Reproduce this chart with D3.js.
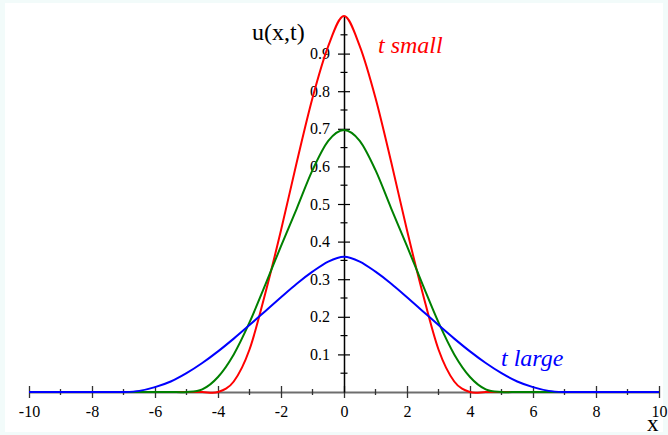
<!DOCTYPE html>
<html lang="en">
<head>
    <meta charset="UTF-8">
    <title>u(x,t)</title>
    <script src="https://d3js.org/d3.v7.min.js"></script>
    <style>
        body {
            margin: 0;
            padding: 0;
            background-color: #ffffff;
        }
        svg text {
            font-family: "Liberation Serif", "Times New Roman", serif;
        }
    </style>
</head>
<body>
    <div id="chart"></div>

    <script>
        // Sample positions along x
        const xs = [-10, -9.5, -9, -8.5, -8, -7.5, -7, -6.5, -6, -5.5, -5, -4.5, -4, -3.5, -3, -2.5, -2, -1.5, -1, -0.5,
                    0, 0.5, 1, 1.5, 2, 2.5, 3, 3.5, 4, 4.5, 5, 5.5, 6, 6.5, 7, 7.5, 8, 8.5, 9, 9.5, 10];

        // u(x,t) values for each curve
        const redValues = [0, 0, 0, 0, 0, 0, 0, 0, 0, 0, 0, 0, 0, 0.028, 0.113, 0.262, 0.43, 0.611, 0.782, 0.92,
                           1.0, 0.92, 0.782, 0.611, 0.43, 0.262, 0.113, 0.028, 0, 0, 0, 0, 0, 0, 0, 0, 0, 0, 0, 0, 0];
        const greenValues = [0, 0, 0, 0, 0, 0, 0, 0, 0, 0, 0, 0.007, 0.04, 0.1, 0.185, 0.285, 0.388, 0.488, 0.59, 0.668,
                             0.697, 0.668, 0.59, 0.488, 0.388, 0.285, 0.185, 0.1, 0.04, 0.007, 0, 0, 0, 0, 0, 0, 0, 0, 0, 0, 0];
        const blueValues = [0, 0, 0, 0, 0, 0, 0, 0.003, 0.013, 0.028, 0.05, 0.077, 0.108, 0.142, 0.178, 0.215, 0.252, 0.288, 0.32, 0.347,
                            0.36, 0.347, 0.32, 0.288, 0.252, 0.215, 0.178, 0.142, 0.108, 0.077, 0.05, 0.028, 0.013, 0.003, 0, 0, 0, 0, 0, 0, 0];

        // Axis ticks
        const xMajorTicks = [-10, -8, -6, -4, -2, 0, 2, 4, 6, 8, 10];
        const xMinorTicks = [-9, -7, -5, -3, -1, 1, 3, 5, 7, 9];
        const yMajorTicks = [0.1, 0.2, 0.3, 0.4, 0.5, 0.6, 0.7, 0.8, 0.9];
        const yMinorTicks = [0.05, 0.15, 0.25, 0.35, 0.45, 0.55, 0.65, 0.75, 0.85, 0.95];

        const width = 668;
        const height = 435;

        const svg = d3.select("#chart")
            .append("svg")
            .attr("width", width)
            .attr("height", height);

        // faint frame around the plot area
        svg.append("rect")
            .attr("width", width)
            .attr("height", height)
            .attr("fill", "#f2fbfa");
        svg.append("rect")
            .attr("x", 5)
            .attr("y", 3)
            .attr("width", width - 10)
            .attr("height", height - 6)
            .attr("fill", "#ffffff");

        const x = d3.scaleLinear().domain([-10, 10]).range([29, 659]);
        const y = d3.scaleLinear().domain([0, 1]).range([392, 16]);

        // x axis
        const xAxis = svg.append("g")
            .attr("transform", `translate(0, ${y(0)})`)
            .call(d3.axisBottom(x).tickValues(xMajorTicks).tickFormat(d => String(d)).tickSizeOuter(0));

        xAxis.select(".domain")
            .attr("stroke", "#6e6e6e")
            .attr("stroke-width", 2);
        xAxis.selectAll(".tick line")
            .attr("y1", -6)
            .attr("y2", 6)
            .attr("stroke", "#333")
            .attr("stroke-width", 1.3);
        xAxis.selectAll(".tick text")
            .attr("y", 25)
            .attr("dy", null)
            .attr("fill", "#000")
            .style("font-size", "16px");

        xAxis.selectAll(".minor")
            .data(xMinorTicks)
            .enter()
            .append("line")
            .attr("class", "minor")
            .attr("x1", d => x(d))
            .attr("x2", d => x(d))
            .attr("y1", -3)
            .attr("y2", 3)
            .attr("stroke", "#333")
            .attr("stroke-width", 1.3);

        // y axis
        const yAxis = svg.append("g")
            .attr("transform", `translate(${x(0)}, 0)`)
            .call(d3.axisLeft(y).tickValues(yMajorTicks).tickFormat(d3.format(".1f")).tickSizeOuter(0));

        yAxis.select(".domain")
            .attr("stroke", "#000")
            .attr("stroke-width", 1.5);
        yAxis.selectAll(".tick line")
            .attr("x1", -6)
            .attr("x2", 6)
            .attr("stroke", "#000")
            .attr("stroke-width", 1.2);
        yAxis.selectAll(".tick text")
            .attr("x", -14)
            .attr("fill", "#000")
            .style("font-size", "16px");

        yAxis.selectAll(".minor")
            .data(yMinorTicks)
            .enter()
            .append("line")
            .attr("class", "minor")
            .attr("x1", -3.5)
            .attr("x2", 3.5)
            .attr("y1", d => y(d))
            .attr("y2", d => y(d))
            .attr("stroke", "#000")
            .attr("stroke-width", 1.2);

        // axis titles
        svg.append("text")
            .attr("x", 252)
            .attr("y", 40)
            .style("font-size", "24px")
            .text("u(x,t)");

        svg.append("text")
            .attr("x", 647)
            .attr("y", 431)
            .style("font-size", "23px")
            .text("x");

        // curves (uniform spacing, so a cardinal spline with zero tension behaves as y(x))
        const line = d3.line()
            .x(d => x(d[0]))
            .y(d => y(d[1]))
            .curve(d3.curveCardinal.tension(0));

        const series = [
            { values: redValues, color: "#ff0000" },
            { values: greenValues, color: "#008000" },
            { values: blueValues, color: "#0000ff" }
        ];

        series.forEach(s => {
            svg.append("path")
                .datum(xs.map((xv, i) => [xv, s.values[i]]))
                .attr("d", line)
                .attr("fill", "none")
                .attr("stroke", s.color)
                .attr("stroke-width", 2);
        });

        // curve labels
        svg.append("text")
            .attr("x", 378)
            .attr("y", 53)
            .attr("fill", "#ff0000")
            .style("font-size", "24px")
            .style("font-style", "italic")
            .text("t small");

        svg.append("text")
            .attr("x", 501)
            .attr("y", 366)
            .attr("fill", "#0000ff")
            .style("font-size", "24px")
            .style("font-style", "italic")
            .text("t large");
    </script>
</body>
</html>
